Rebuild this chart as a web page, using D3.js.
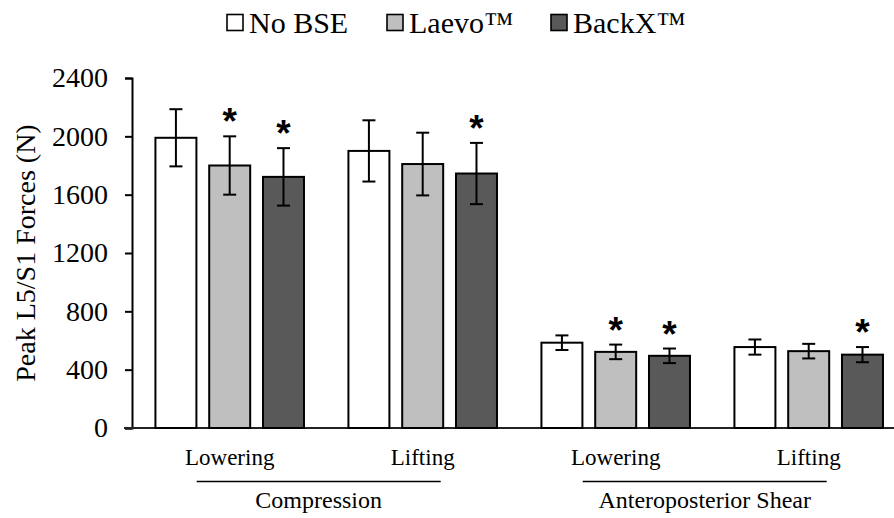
<!DOCTYPE html>
<html>
<head>
<meta charset="utf-8">
<script src="https://cdn.jsdelivr.net/npm/d3@7"></script>
<style>
  html, body { margin: 0; padding: 0; background: #fff; }
  svg { display: block; }
  text { font-family: "Liberation Serif", "Times New Roman", serif; fill: #000; }
</style>
</head>
<body>
<svg id="chart" width="894" height="518"></svg>
<script>
// Peak L5/S1 forces by condition and task
const conditions = ["Compression|Lowering", "Compression|Lifting", "Shear|Lowering", "Shear|Lifting"];
const taskLabels = ["Lowering", "Lifting", "Lowering", "Lifting"];
const forceTypes = ["Compression", "Anteroposterior Shear"];
const series = ["No BSE", "Laevo™", "BackX™"];
const seriesColors = ["#ffffff", "#bfbfbf", "#595959"];

const meanNoBSE = [1990, 1900, 585, 555];
const meanLaevo = [1800, 1810, 522, 527];
const meanBackX = [1722, 1745, 495, 503];

const sdNoBSE = [196, 210, 50, 52];
const sdLaevo = [200, 215, 50, 50];
const sdBackX = [197, 210, 50, 52];

// significant difference from No BSE
const sigLaevo = [true, false, true, false];
const sigBackX = [true, true, true, true];

const yTicks = [0, 400, 800, 1200, 1600, 2000, 2400];

const means = [meanNoBSE, meanLaevo, meanBackX];
const sds = [sdNoBSE, sdLaevo, sdBackX];
const sigs = [conditions.map(() => false), sigLaevo, sigBackX];

const svg = d3.select("#chart");

const y = d3.scaleLinear().domain([0, 2400]).range([428, 78]);

const x0 = d3.scaleBand()
  .domain(conditions)
  .range([133.2, 905.2])
  .paddingInner(0.164)
  .paddingOuter(0.082);

const x1 = d3.scaleBand()
  .domain(series)
  .range([0, x0.bandwidth()])
  .paddingInner(0.238)
  .paddingOuter(0.119);

// y axis
const yAxis = svg.append("g")
  .attr("transform", "translate(132,0)")
  .call(d3.axisLeft(y).tickValues(yTicks).tickSize(7).tickPadding(17).tickFormat(d3.format("d")));
yAxis.select(".domain").attr("stroke", "#000").attr("stroke-width", 2);
yAxis.selectAll(".tick line").attr("stroke", "#000").attr("stroke-width", 2);
yAxis.selectAll(".tick text")
  .style("font-family", "'Liberation Serif', serif")
  .style("font-size", "28px")
  .attr("fill", "#000");

// x axis baseline
svg.append("line")
  .attr("x1", 124).attr("x2", 894)
  .attr("y1", y(0)).attr("y2", y(0))
  .attr("stroke", "#222").attr("stroke-width", 2);

// y title
svg.append("text")
  .attr("transform", `translate(35,${(y(0) + y(2400)) / 2}) rotate(-90)`)
  .attr("text-anchor", "middle")
  .style("font-size", "28px")
  .text("Peak L5/S1 Forces (N)");

// bars
const rows = [];
series.forEach((s, si) => {
  conditions.forEach((c, ci) => {
    rows.push({ s, si, c, ci, v: means[si][ci], sd: sds[si][ci], sig: sigs[si][ci] });
  });
});

const g = svg.append("g");

g.selectAll("rect.bar")
  .data(rows)
  .join("rect")
  .attr("class", "bar")
  .attr("x", d => x0(d.c) + x1(d.s))
  .attr("y", d => y(d.v))
  .attr("width", x1.bandwidth())
  .attr("height", d => y(0) - y(d.v))
  .attr("fill", d => seriesColors[d.si])
  .attr("stroke", "#000")
  .attr("stroke-width", 2);

// error bars
const capHalf = 6.5;
const eb = g.selectAll("g.err").data(rows).join("g").attr("class", "err")
  .attr("stroke", "#000").attr("stroke-width", 2);
eb.append("line")
  .attr("x1", d => x0(d.c) + x1(d.s) + x1.bandwidth() / 2)
  .attr("x2", d => x0(d.c) + x1(d.s) + x1.bandwidth() / 2)
  .attr("y1", d => y(d.v + d.sd))
  .attr("y2", d => y(d.v - d.sd));
eb.append("line")
  .attr("x1", d => x0(d.c) + x1(d.s) + x1.bandwidth() / 2 - capHalf)
  .attr("x2", d => x0(d.c) + x1(d.s) + x1.bandwidth() / 2 + capHalf)
  .attr("y1", d => y(d.v + d.sd))
  .attr("y2", d => y(d.v + d.sd));
eb.append("line")
  .attr("x1", d => x0(d.c) + x1(d.s) + x1.bandwidth() / 2 - capHalf)
  .attr("x2", d => x0(d.c) + x1(d.s) + x1.bandwidth() / 2 + capHalf)
  .attr("y1", d => y(d.v - d.sd))
  .attr("y2", d => y(d.v - d.sd));

// significance asterisks
g.selectAll("text.sig")
  .data(rows.filter(d => d.sig))
  .join("text")
  .attr("class", "sig")
  .attr("x", d => x0(d.c) + x1(d.s) + x1.bandwidth() / 2)
  .attr("y", d => y(d.v + d.sd) - 23 + 21)
  .attr("text-anchor", "middle")
  .style("font-family", "'Liberation Sans', Arial, sans-serif")
  .style("font-weight", "bold")
  .style("font-size", "37px")
  .text("*");

// task labels
svg.selectAll("text.task")
  .data(conditions)
  .join("text")
  .attr("class", "task")
  .attr("x", d => x0(d) + x0.bandwidth() / 2)
  .attr("y", 465)
  .attr("text-anchor", "middle")
  .style("font-size", "23px")
  .text((d, i) => taskLabels[i]);

// force-type brackets
forceTypes.forEach((f, fi) => {
  const cLow = conditions[fi * 2], cLift = conditions[fi * 2 + 1];
  const xa = x0(cLow) + x0.bandwidth() / 2 - 33;
  const xb = x0(cLift) + x0.bandwidth() / 2 + 18;
  svg.append("line")
    .attr("x1", xa).attr("x2", xb)
    .attr("y1", 481.5).attr("y2", 481.5)
    .attr("stroke", "#000").attr("stroke-width", 1.3);
  svg.append("text")
    .attr("x", (xa + xb) / 2)
    .attr("y", 508)
    .attr("text-anchor", "middle")
    .style("font-size", "24px")
    .text(f);
});

// legend
const legendX = [227, 387, 551];
const lg = svg.append("g");
series.forEach((s, i) => {
  const item = lg.append("g").attr("transform", `translate(${legendX[i]},0)`);
  item.append("rect")
    .attr("x", 0).attr("y", 14.5)
    .attr("width", 16).attr("height", 16)
    .attr("fill", seriesColors[i])
    .attr("stroke", "#000").attr("stroke-width", 1.6);
  item.append("text")
    .attr("x", 22).attr("y", 32.5)
    .style("font-size", "30px")
    .text(s);
});
</script>
</body>
</html>
